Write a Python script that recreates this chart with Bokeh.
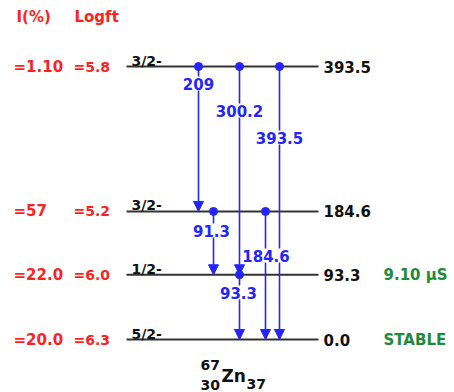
from bokeh.plotting import figure
from bokeh.models import Arrow, NormalHead, ColumnDataSource
from bokeh.core.properties import value
from bokeh.embed import file_html
from bokeh.resources import INLINE

# ---- 67Zn level scheme data ----
level_energy = [393.5, 184.6, 93.3, 0.0]
level_label = ["393.5", "184.6", "93.3", "0.0"]
level_spin = ["3/2-", "3/2-", "1/2-", "5/2-"]
feed_intensity = ["=1.10", "=57", "=22.0", "=20.0"]
log_ft = ["=5.8", "=5.2", "=6.0", "=6.3"]

half_life_energy = [93.3, 0.0]
half_life_label = ["9.10 \u00b5S", "STABLE"]

# gamma transitions: label, initial level, final level
gamma_label = ["209", "300.2", "393.5", "91.3", "184.6", "93.3"]
gamma_from = [393.5, 393.5, 393.5, 184.6, 184.6, 93.3]
gamma_to = [184.6, 93.3, 0.0, 93.3, 0.0, 0.0]

# ---- layout (screen pixels) ----
W, H = 454, 392
ZERO_PX = 339          # row of the ground state
TOP_PX = 66            # row of the highest level
PX_PER_KEV = (ZERO_PX - TOP_PX) / max(level_energy)


def px_to_kev(row):
    return (ZERO_PX - row) / PX_PER_KEV


gamma_x = [198, 239, 279, 213, 265, 239]
gamma_text_x = [198, 239, 279, 211, 265.5, 238]
gamma_text_row = [83, 110, 137, 230, 255, 292]
gamma_text_y = [px_to_kev(r) for r in gamma_text_row]

LEVEL_X0, LEVEL_X1 = 126, 318

RED = "#ff1f1f"
BLUE = "#2424ff"
GREEN = "#1e8a3c"
DARK = "#333333"
FONT = value("DejaVu Sans")

p = figure(width=W, height=H, x_range=(0, W),
           y_range=(px_to_kev(H), px_to_kev(0)),
           output_backend="svg", toolbar_location=None,
           x_axis_location=None, y_axis_location=None, min_border=0)
p.grid.visible = False
p.outline_line_color = None
p.background_fill_color = "white"
p.border_fill_color = "white"

# level lines
n = len(level_energy)
p.segment(x0=[LEVEL_X0] * n, x1=[LEVEL_X1] * n, y0=level_energy, y1=level_energy,
          line_color=DARK, line_width=2)

# level energies on the right
p.text(x=[323] * n, y=level_energy, text=level_label, text_font=FONT,
       text_font_style="bold", text_font_size="15px", text_color="#111111",
       text_baseline="middle", text_align="left")

# spin/parity above each level
p.text(x=[131] * n, y=level_energy, text=level_spin, text_font=FONT,
       text_font_style="bold", text_font_size="14px", text_color="#111111",
       text_baseline="alphabetic", text_align="left", y_offset=-6)

# beta feeding and log ft on the left
p.text(x=[13] * n, y=level_energy, text=feed_intensity, text_font=FONT,
       text_font_style="bold", text_font_size="15px", text_color=RED,
       text_baseline="middle", text_align="left")
p.text(x=[73] * n, y=level_energy, text=log_ft, text_font=FONT,
       text_font_style="bold", text_font_size="14px", text_color=RED,
       text_baseline="middle", text_align="left")

# column headers
p.text(x=[16, 74], y=[px_to_kev(16)] * 2, text=["I(%)", "Logft"], text_font=FONT,
       text_font_style="bold", text_font_size="15px", text_color=RED,
       text_baseline="middle", text_align="left")

# half-lives
p.text(x=[383] * len(half_life_energy), y=half_life_energy, text=half_life_label,
       text_font=FONT, text_font_style="bold", text_font_size="15px",
       text_color=GREEN, text_baseline="middle", text_align="left")

# gamma transitions
gsrc = ColumnDataSource(dict(x=gamma_x, y0=gamma_from, y1=gamma_to))
p.add_layout(Arrow(end=NormalHead(size=10, fill_color=BLUE, line_color=BLUE),
                   x_start="x", y_start="y0", x_end="x", y_end="y1",
                   source=gsrc, line_color=BLUE, line_width=1.6))
dots = p.scatter(x="x", y="y0", source=gsrc, size=8, fill_color=BLUE,
                 line_color=BLUE)
dots.level = "annotation"

glabels = p.text(x=gamma_text_x, y=gamma_text_y, text=gamma_label, text_font=FONT,
                 text_font_style="bold", text_font_size="15px", text_color=BLUE,
                 text_baseline="middle", text_align="center",
                 background_fill_color="white", padding=1)
glabels.level = "overlay"

# nuclide symbol
p.text(x=[221], y=[px_to_kev(375)], text=["Zn"], text_font=FONT,
       text_font_style="bold", text_font_size="17px", text_color="#111111",
       text_baseline="alphabetic", text_align="left")
p.text(x=[200, 200, 246], y=[px_to_kev(364), px_to_kev(384), px_to_kev(383)],
       text=["67", "30", "37"], text_font=FONT, text_font_style="bold",
       text_font_size="14px", text_color="#111111",
       text_baseline="alphabetic", text_align="left")

open("out.html", "w").write(file_html(p, INLINE))
